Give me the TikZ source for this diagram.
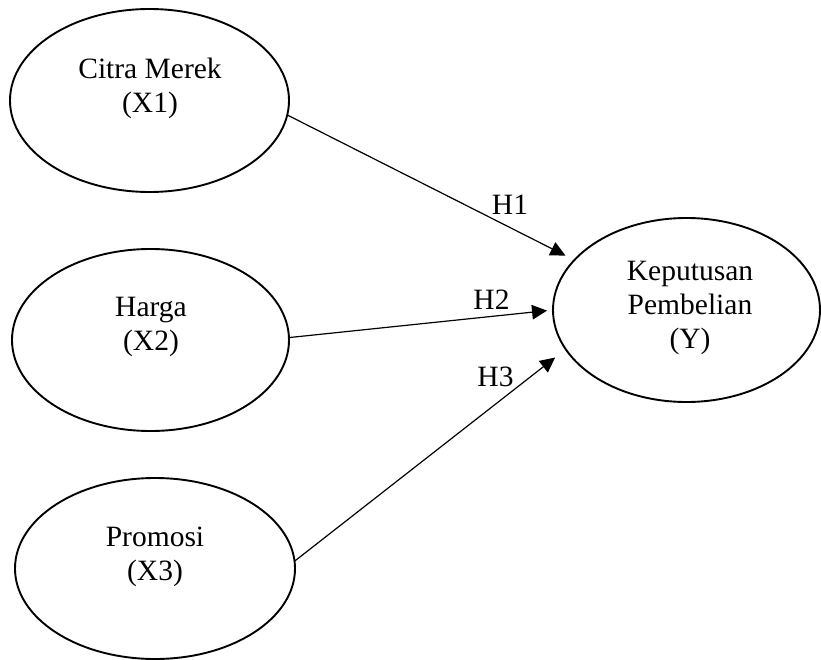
\documentclass[tikz,border=0pt]{standalone}
\usepackage{fontspec}
\setmainfont{Liberation Serif}
\usetikzlibrary{arrows.meta,shapes.geometric}
\begin{document}
\begin{tikzpicture}[x=1pt,y=-1pt,
  var/.style={draw, line width=1.9pt, ellipse, inner sep=0pt, outer sep=0pt},
  txt/.style={align=center, inner sep=0pt, font=\fontsize{29.5}{34}\selectfont},
  hyp/.style={inner sep=0pt, font=\fontsize{29.5}{34}\selectfont},
  link/.style={line width=1.2pt, -{Triangle[length=15pt,width=14.5pt]}}]
\useasboundingbox (0,0) rectangle (821,660);
\node[var, minimum width=279pt, minimum height=183pt] (citra) at (149.5,100.5) {};
\node[var, minimum width=277pt, minimum height=182pt] (harga) at (150.5,340) {};
\node[var, minimum width=280pt, minimum height=181pt] (promosi) at (155,568.5) {};
\node[var, minimum width=267pt, minimum height=184pt] (kp) at (686.5,310) {};
\node[txt] (citraT) at (150,88) {Citra Merek\\(X1)};
\node[txt] (hargaT) at (151,327) {Harga\\(X2)};
\node[txt] (promosiT) at (155,557) {Promosi\\(X3)};
\node[txt] (kpT) at (690,308) {Keputusan\\Pembelian\\(Y)};
\draw[link, shorten >=10pt] (citra.-6) -- (kp.156.6);
\draw[link, shorten >=6pt] (harga.1) -- (kp.180.8);
\draw[link, shorten >=13.5pt] (promosi.3.5) -- (kp.198.8);
\node[hyp] (h1) at (510,205) {H1};
\node[hyp] (h2) at (491.5,300) {H2};
\node[hyp] (h3) at (495.5,377) {H3};
\end{tikzpicture}
\end{document}
